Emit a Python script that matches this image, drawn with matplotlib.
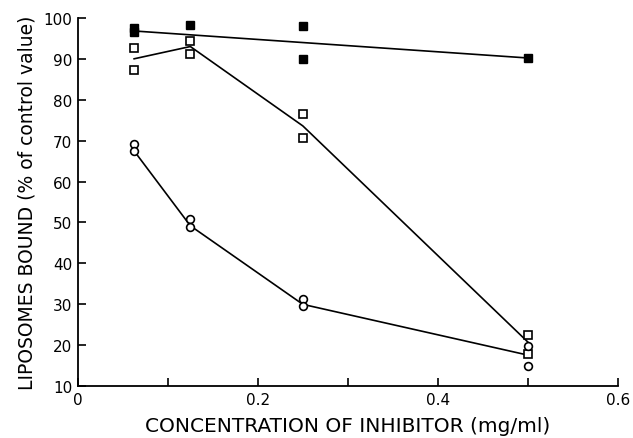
import numpy as np
import matplotlib
matplotlib.use('Agg')
import matplotlib.pyplot as plt

# filled squares: points and fitted line
fill_x = [0.0625, 0.0625, 0.125, 0.25, 0.25, 0.5]
fill_y = [97.5, 96.5, 98.3, 98.0, 90.0, 90.2]
fill_line_x = [0.0625, 0.5]
fill_line_y = [96.8, 90.2]

# open squares
sq_x = [0.0625, 0.0625, 0.125, 0.125, 0.25, 0.25, 0.5, 0.5]
sq_y = [92.7, 87.3, 94.4, 91.2, 76.5, 70.7, 22.5, 17.8]
sq_line_x = [0.0625, 0.125, 0.25, 0.5]
sq_line_y = [90.0, 93.0, 73.6, 20.8]

# open circles
ci_x = [0.0625, 0.0625, 0.125, 0.125, 0.25, 0.25, 0.5, 0.5]
ci_y = [69.3, 67.5, 50.8, 48.9, 31.3, 29.6, 19.8, 14.9]
ci_line_x = [0.0625, 0.125, 0.25, 0.5]
ci_line_y = [67.5, 49.2, 30.0, 17.6]

xticks = [0, 0.1, 0.2, 0.3, 0.4, 0.5, 0.6]
xticklabels = ['0', '', '0.2', '', '0.4', '', '0.6']
yticks = [10, 20, 30, 40, 50, 60, 70, 80, 90, 100]

plt.rcParams['font.family'] = ['DejaVu Sans']

fig = plt.figure(figsize=(6.33, 4.39), dpi=100)
ax = fig.add_axes([0.123, 0.118, 0.853, 0.839])

lw = 1.2
ax.plot(fill_line_x, fill_line_y, color='black', lw=lw)
ax.plot(sq_line_x, sq_line_y, color='black', lw=lw)
ax.plot(ci_line_x, ci_line_y, color='black', lw=lw)

ax.plot(fill_x, fill_y, 's', color='black', ms=6.2, mfc='black', mew=1.0)
ax.plot(sq_x, sq_y, 's', color='black', ms=5.8, mfc='white', mew=1.2)
ax.plot(ci_x, ci_y, 'o', color='black', ms=5.6, mfc='white', mew=1.2)

ax.set_xlim(0, 0.6)
ax.set_ylim(10, 100)
ax.set_xticks(xticks)
ax.set_xticklabels(xticklabels)
ax.set_yticks(yticks)
ax.tick_params(direction='in', length=6, width=1.2, labelsize=11, pad=4)
for s in ['top', 'right']:
    ax.spines[s].set_visible(False)
for s in ['left', 'bottom']:
    ax.spines[s].set_linewidth(1.3)

ax.set_xlabel('CONCENTRATION OF INHIBITOR (mg/ml)', fontsize=14.5, labelpad=7)
ax.set_ylabel('LIPOSOMES BOUND (% of control value)', fontsize=13.5, labelpad=5)

fig.savefig('out.png', dpi=100)
